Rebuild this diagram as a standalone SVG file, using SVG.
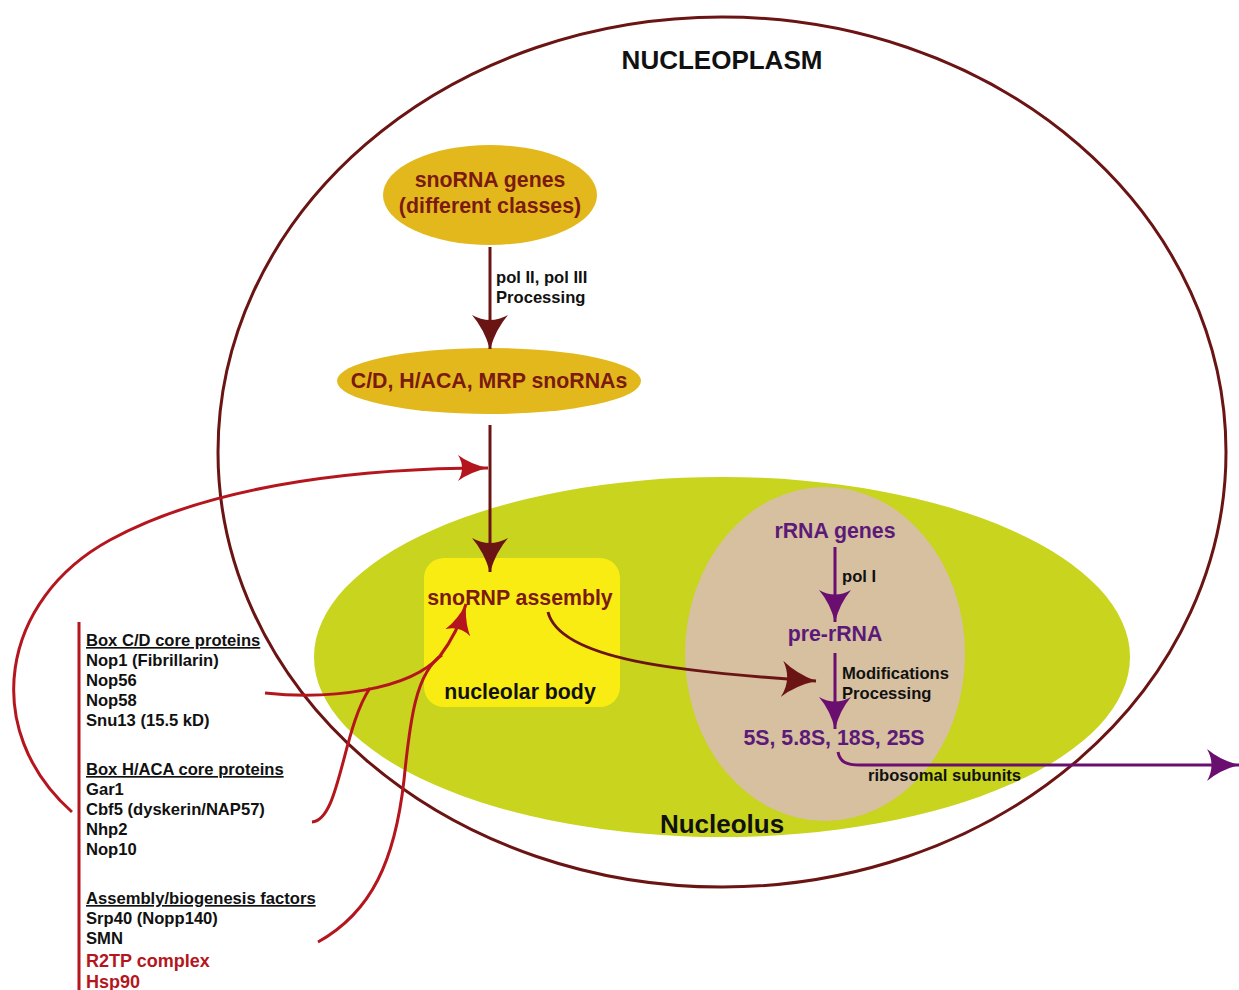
<svg xmlns="http://www.w3.org/2000/svg" width="1239" height="990" viewBox="0 0 1239 990">
<style>
text{font-family:"Liberation Sans",Arial,sans-serif;font-weight:bold}
.lbl{font-size:16.6px;fill:#111}
.big{font-size:21.3px}
.brn{fill:#7a1a10}
.pur{fill:#5c1a78}
.red{fill:#b5161e}
.cb{fill:none;stroke:#6b1414;stroke-width:3}
.cr{fill:none;stroke:#b5161e;stroke-width:3}
.cp{fill:none;stroke:#6a0f70;stroke-width:3}
</style>
<defs>
<marker id="ab" markerUnits="userSpaceOnUse" markerWidth="34" markerHeight="36" viewBox="0 0 34 36" refX="34" refY="18" orient="auto">
<path d="M0,0 Q14,12 34,18 Q14,24 0,36 Q10,18 0,0 z" fill="#6b1414"/>
</marker>
<marker id="ar" markerUnits="userSpaceOnUse" markerWidth="30" markerHeight="26" viewBox="0 0 30 26" refX="30" refY="13" orient="auto">
<path d="M0,0 Q12,9 30,13 Q12,17 0,26 Q8,13 0,0 z" fill="#b5161e"/>
</marker>
<marker id="ap" markerUnits="userSpaceOnUse" markerWidth="32" markerHeight="32" viewBox="0 0 32 32" refX="32" refY="16" orient="auto">
<path d="M0,0 Q13,11 32,16 Q13,21 0,32 Q9,16 0,0 z" fill="#6a0f70"/>
</marker>
</defs>
<rect width="1239" height="990" fill="#fff"/>
<g id="nucleolus">
<ellipse cx="722" cy="657" rx="408" ry="180" fill="#c8d41e"/>
</g>
<g id="rrna-region">
<ellipse cx="825" cy="654" rx="140" ry="167" fill="#d6c0a0"/>
</g>
<g id="nucleoplasm">
<ellipse cx="722" cy="452" rx="504" ry="435" fill="none" stroke="#6b1414" stroke-width="3"/>
<text x="722" y="69" text-anchor="middle" font-size="26" fill="#111">NUCLEOPLASM</text>
</g>
<text x="722" y="833" text-anchor="middle" font-size="26" fill="#111">Nucleolus</text>
<g id="snorna-genes">
<ellipse cx="490" cy="195" rx="107" ry="50" fill="#e3b81c"/>
<text x="490" y="187" text-anchor="middle" class="big brn">snoRNA genes</text>
<text x="490" y="213" text-anchor="middle" class="big brn">(different classes)</text>
</g>
<g id="snornas">
<ellipse cx="489" cy="381" rx="152" ry="33" fill="#e3b81c"/>
<text x="489" y="388" text-anchor="middle" class="big brn">C/D, H/ACA, MRP snoRNAs</text>
</g>
<g id="nucleolar-body">
<rect x="424" y="558" width="196" height="149" rx="20" fill="#f9ec13"/>
<text x="520" y="605" text-anchor="middle" class="big brn">snoRNP assembly</text>
<text x="520" y="699" text-anchor="middle" class="big" fill="#111">nucleolar body</text>
</g>
<g id="rrna-genes"><text x="835" y="538" text-anchor="middle" class="big pur">rRNA genes</text></g>
<g id="pre-rrna"><text x="835" y="641" text-anchor="middle" class="big pur">pre-rRNA</text></g>
<g id="mature-rrna"><text x="834" y="745" text-anchor="middle" class="big pur">5S, 5.8S, 18S, 25S</text></g>
<g id="proteins">
<line x1="79" y1="622" x2="79" y2="990" stroke="#b5161e" stroke-width="3"/>
<text x="86" y="646" class="lbl" text-decoration="underline">Box C/D core proteins</text>
<text x="86" y="666" class="lbl">Nop1 (Fibrillarin)</text>
<text x="86" y="686" class="lbl">Nop56</text>
<text x="86" y="706" class="lbl">Nop58</text>
<text x="86" y="726" class="lbl">Snu13 (15.5 kD)</text>
<text x="86" y="775" class="lbl" text-decoration="underline">Box H/ACA core proteins</text>
<text x="86" y="795" class="lbl">Gar1</text>
<text x="86" y="815" class="lbl">Cbf5 (dyskerin/NAP57)</text>
<text x="86" y="835" class="lbl">Nhp2</text>
<text x="86" y="855" class="lbl">Nop10</text>
<text x="86" y="904" class="lbl" text-decoration="underline">Assembly/biogenesis factors</text>
<text x="86" y="924" class="lbl">Srp40 (Nopp140)</text>
<text x="86" y="944" class="lbl">SMN</text>
<text x="86" y="967" font-size="18" class="red">R2TP complex</text>
<text x="86" y="988" font-size="18" class="red">Hsp90</text>
</g>
<g id="connectors">
<line x1="490" y1="247" x2="490" y2="349" class="cb" marker-end="url(#ab)"/>
<line x1="490" y1="425" x2="490" y2="572" class="cb" marker-end="url(#ab)"/>
<path d="M548,612 C560,660 680,672 816,681" class="cb" marker-end="url(#ab)"/>
<line x1="835" y1="547" x2="835" y2="622" class="cp" marker-end="url(#ap)"/>
<line x1="835" y1="653" x2="835" y2="729" class="cp" marker-end="url(#ap)"/>
<path d="M838,752 C840,762 846,765 860,765 L1239,765" class="cp" marker-end="url(#ap)"/>
<path d="M72,812 C-20,730 0,600 110,540 C220,480 380,468 488,468" class="cr" marker-end="url(#ar)"/>
<path d="M265,693 C330,700 410,690 440,656 C452,640 460,625 466,604" class="cr" marker-end="url(#ar)"/>
<path d="M312,822 C340,820 342,730 370,688" class="cr"/>
<path d="M318,942 C372,912 395,860 404,780 C410,720 416,672 442,655" class="cr"/>
<text x="496" y="283" class="lbl">pol II, pol III</text>
<text x="496" y="303" class="lbl">Processing</text>
<text x="842" y="582" class="lbl">pol I</text>
<text x="842" y="679" class="lbl">Modifications</text>
<text x="842" y="699" class="lbl">Processing</text>
<text x="868" y="781" class="lbl">ribosomal subunits</text>
</g>
</svg>
